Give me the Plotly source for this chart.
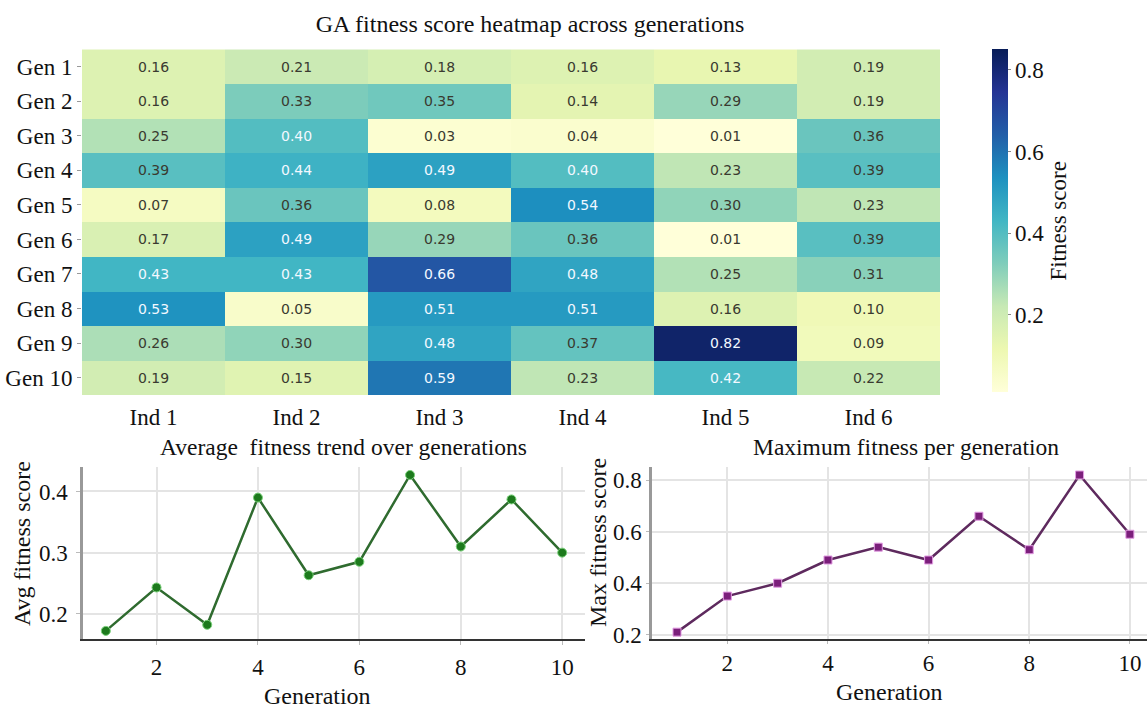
import plotly.graph_objects as go

generations = ["Gen 1", "Gen 2", "Gen 3", "Gen 4", "Gen 5", "Gen 6", "Gen 7", "Gen 8", "Gen 9", "Gen 10"]
individuals = ["Ind 1", "Ind 2", "Ind 3", "Ind 4", "Ind 5", "Ind 6"]
fitness = [
    [0.16, 0.21, 0.18, 0.16, 0.13, 0.19],
    [0.16, 0.33, 0.35, 0.14, 0.29, 0.19],
    [0.25, 0.40, 0.03, 0.04, 0.01, 0.36],
    [0.39, 0.44, 0.49, 0.40, 0.23, 0.39],
    [0.07, 0.36, 0.08, 0.54, 0.30, 0.23],
    [0.17, 0.49, 0.29, 0.36, 0.01, 0.39],
    [0.43, 0.43, 0.66, 0.48, 0.25, 0.31],
    [0.53, 0.05, 0.51, 0.51, 0.16, 0.10],
    [0.26, 0.30, 0.48, 0.37, 0.82, 0.09],
    [0.19, 0.15, 0.59, 0.23, 0.42, 0.22],
]
gen_numbers = [1, 2, 3, 4, 5, 6, 7, 8, 9, 10]
avg_fitness = [0.172, 0.243, 0.182, 0.390, 0.263, 0.285, 0.427, 0.310, 0.387, 0.300]
max_fitness = [0.21, 0.35, 0.40, 0.49, 0.54, 0.49, 0.66, 0.53, 0.82, 0.59]
cbar_ticks = [0.2, 0.4, 0.6, 0.8]
line_ticks = [2, 4, 6, 8, 10]

W, H = 1147, 713
def px_x(p): return p / W
def px_y(p): return 1 - p / H

SERIF = "Liberation Serif, Times New Roman, serif"
ylgnbu = ["#ffffd9", "#edf8b1", "#c7e9b4", "#7fcdbb", "#41b6c4",
          "#1d91c0", "#225ea8", "#253494", "#081d58"]
cscale = [[i / (len(ylgnbu) - 1), c] for i, c in enumerate(ylgnbu)]

fig = go.Figure()

fig.add_trace(go.Heatmap(
    z=fitness, x=individuals, y=generations,
    colorscale=cscale, zmin=0.01, zmax=0.85,
    xaxis="x", yaxis="y", xgap=0, ygap=0,
    colorbar=dict(
        x=px_x(992), xanchor="left", y=px_y(50), yanchor="top",
        len=347 / H, lenmode="fraction", thickness=16, thicknessmode="pixels",
        xpad=0, ypad=0,
        outlinewidth=0, tickvals=cbar_ticks, ticktext=[f"{v:.1f}" for v in cbar_ticks],
        ticks="outside", ticklen=3, tickcolor="#888",
        tickfont=dict(family=SERIF, size=23, color="#111"),
        title=dict(text="Fitness score", side="right",
                   font=dict(family=SERIF, size=23, color="#111")),
    ),
))

# cell labels
annotations = []
for i, g in enumerate(generations):
    for j, ind in enumerate(individuals):
        v = fitness[i][j]
        annotations.append(dict(
            x=ind, y=g, xref="x", yref="y", text=f"{v:.2f}", showarrow=False,
            font=dict(family="DejaVu Sans, sans-serif", size=14,
                      color="#f2f8ff" if v >= 0.40 else "#3a3a30"),
        ))

fig.add_trace(go.Scatter(
    x=gen_numbers, y=avg_fitness, mode="lines+markers", xaxis="x2", yaxis="y2",
    line=dict(color="#2f6b2f", width=2.5),
    marker=dict(symbol="circle", size=9, color="#1d7a1d", line=dict(color="#78d078", width=1)),
    showlegend=False,
))
fig.add_trace(go.Scatter(
    x=gen_numbers, y=max_fitness, mode="lines+markers", xaxis="x3", yaxis="y3",
    line=dict(color="#5e2a5e", width=2.5),
    marker=dict(symbol="square", size=8, color="#7b1f7b", line=dict(color="#e39be3", width=1)),
    showlegend=False,
))

tick_font = dict(family=SERIF, size=23, color="#111")
grid = "#e4e4e4"

fig.update_layout(
    width=W, height=H, margin=dict(l=0, r=0, t=0, b=0),
    paper_bgcolor="white", plot_bgcolor="white", showlegend=False,
    title=dict(text="GA fitness score heatmap across generations",
               x=px_x(530), xanchor="center", y=px_y(24), yanchor="middle",
               font=dict(family=SERIF, size=24, color="#111")),
    xaxis=dict(domain=[px_x(82), px_x(940)], anchor="y", showgrid=False, zeroline=False,
               ticks="", tickfont=tick_font, ticklabelstandoff=6, showline=False),
    yaxis=dict(domain=[px_y(400), px_y(50)], anchor="x", autorange="reversed",
               showgrid=False, zeroline=False, ticks="outside", ticklen=4, tickcolor="#999",
               tickfont=tick_font, ticklabelstandoff=0, showline=False),
    xaxis2=dict(domain=[px_x(83), px_x(585)], anchor="y2", range=[0.55, 10.45],
                tickvals=line_ticks, showgrid=True, gridcolor=grid, gridwidth=1.5,
                zeroline=False, showline=True, linecolor="#333", linewidth=2,
                ticks="outside", ticklen=4, tickcolor="#bbb", tickfont=tick_font,
                ticklabelstandoff=3),
    yaxis2=dict(domain=[px_y(647), px_y(473)], anchor="x2", range=[0.159, 0.44],
                tickvals=[0.2, 0.3, 0.4], ticktext=["0.2", "0.3", "0.4"],
                showgrid=True, gridcolor=grid, gridwidth=1.5, zeroline=False,
                showline=True, linecolor="#999", linewidth=2.5,
                ticks="outside", ticklen=4, tickcolor="#bbb", tickfont=tick_font,
                ticklabelstandoff=4),
    xaxis3=dict(domain=[px_x(652), 1.0], anchor="y3", range=[0.503, 10.34],
                tickvals=line_ticks, showgrid=True, gridcolor=grid, gridwidth=1.5,
                zeroline=False, showline=True, linecolor="#333", linewidth=2,
                ticks="outside", ticklen=3, tickcolor="#bbb", tickfont=tick_font,
                ticklabelstandoff=0),
    yaxis3=dict(domain=[px_y(647), px_y(473)], anchor="x3", range=[0.184, 0.851],
                tickvals=[0.2, 0.4, 0.6, 0.8], ticktext=["0.2", "0.4", "0.6", "0.8"],
                showgrid=True, gridcolor=grid, gridwidth=1.5, zeroline=False,
                showline=True, linecolor="#999", linewidth=2.5,
                ticks="outside", ticklen=3, tickcolor="#bbb", tickfont=tick_font,
                ticklabelstandoff=0),
)

text_font = dict(family=SERIF, size=23.5, color="#111")
label_font = dict(family=SERIF, size=24, color="#111")
annotations += [
    dict(text="Average  fitness trend over generations", x=px_x(343), y=px_y(453),
         xref="paper", yref="paper", showarrow=False, font=text_font,
         xanchor="center", yanchor="middle"),
    dict(text="Maximum fitness per generation", x=px_x(906), y=px_y(453),
         xref="paper", yref="paper", showarrow=False, font=text_font,
         xanchor="center", yanchor="middle"),
    dict(text="Generation", x=px_x(317), y=px_y(705), xref="paper", yref="paper",
         showarrow=False, font=label_font, xanchor="center", yanchor="middle"),
    dict(text="Generation", x=px_x(890), y=px_y(701), xref="paper", yref="paper",
         showarrow=False, font=label_font, xanchor="center", yanchor="middle"),
    dict(text="Avg fitness score", x=px_x(22), y=px_y(551), xref="paper", yref="paper",
         showarrow=False, font=label_font, textangle=-90, xanchor="center", yanchor="middle"),
    dict(text="Max fitness score", x=px_x(598), y=px_y(550), xref="paper", yref="paper",
         showarrow=False, font=label_font, textangle=-90, xanchor="center", yanchor="middle"),
]
fig.update_layout(annotations=annotations)

fig.write_html("out.html")
